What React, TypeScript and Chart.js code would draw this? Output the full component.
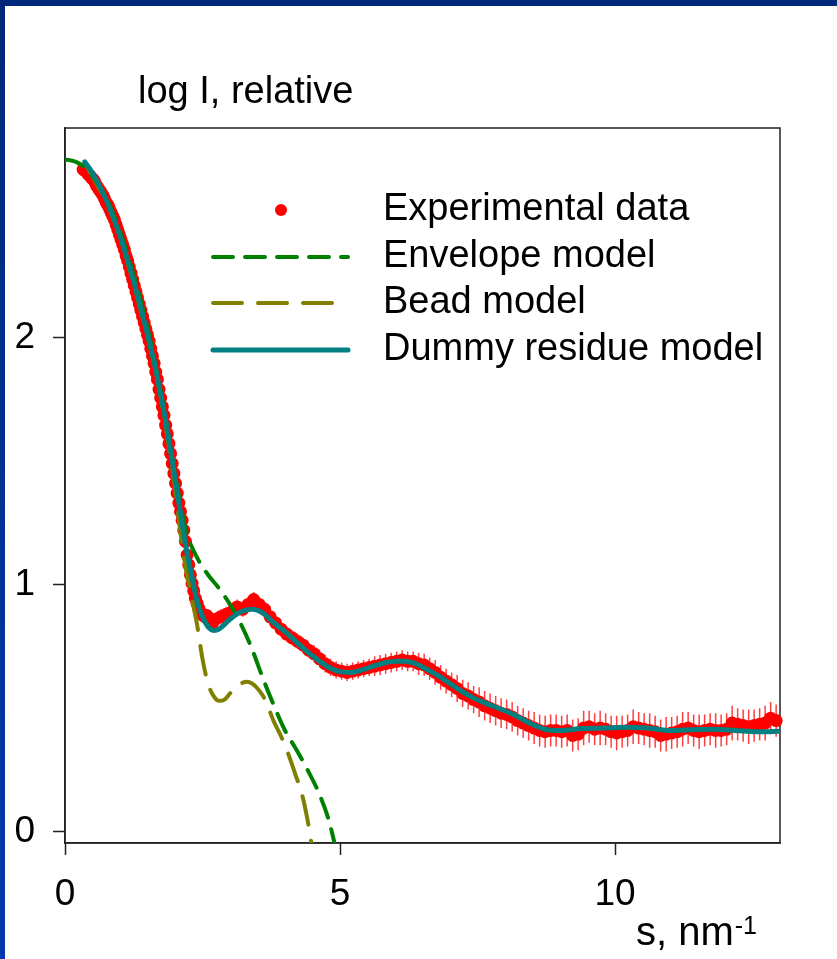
import React, { useEffect, useRef } from "react";
import { Chart, registerables } from "chart.js";

Chart.register(...registerables);

// ---- data ----
const expS = [
  0.33, 0.36, 0.39, 0.42, 0.45, 0.48, 0.51, 0.54, 0.57, 0.6,
  0.63, 0.66, 0.69, 0.72, 0.75, 0.78, 0.81, 0.84, 0.87, 0.9,
  0.93, 0.96, 0.99, 1.02, 1.05, 1.08, 1.11, 1.14, 1.17, 1.2,
  1.23, 1.26, 1.29, 1.32, 1.35, 1.38, 1.41, 1.44, 1.47, 1.5,
  1.53, 1.56, 1.59, 1.62, 1.65, 1.68, 1.71, 1.74, 1.77, 1.8,
  1.83, 1.86, 1.89, 1.92, 1.95, 1.98, 2.01, 2.04, 2.07, 2.1,
  2.13, 2.16, 2.19, 2.22, 2.25, 2.28, 2.31, 2.34, 2.37, 2.4,
  2.43, 2.46, 2.49, 2.52, 2.55, 2.58, 2.61, 2.64, 2.67, 2.7,
  2.73,
  2.83, 2.93, 3.03, 3.13, 3.23,
  3.33, 3.43, 3.53, 3.63, 3.73, 3.83, 3.93, 4.03, 4.13, 4.23,
  4.33, 4.43, 4.53, 4.63, 4.73, 4.83, 4.93, 5.03, 5.13, 5.23,
  5.33, 5.43, 5.53, 5.63, 5.73, 5.83, 5.93, 6.03, 6.13, 6.23,
  6.33, 6.43, 6.53, 6.63, 6.73, 6.83, 6.93, 7.03, 7.13, 7.23,
  7.33, 7.43, 7.53, 7.63, 7.73, 7.83, 7.93, 8.03, 8.13, 8.23,
  8.33, 8.43, 8.53, 8.63, 8.73, 8.83, 8.93, 9.03, 9.13, 9.23,
  9.33, 9.43, 9.53, 9.63, 9.73, 9.83, 9.93, 10.03, 10.13, 10.23,
  10.33, 10.43, 10.53, 10.63, 10.73, 10.83, 10.93, 11.03, 11.13, 11.23,
  11.33, 11.43, 11.53, 11.63, 11.73, 11.83, 11.93, 12.03, 12.13, 12.23,
  12.33, 12.43, 12.53, 12.63, 12.73, 12.83, 12.93,
];
const expI = [
  2.68, 2.675, 2.67, 2.66, 2.655, 2.645, 2.64, 2.63, 2.615, 2.605,
  2.595, 2.585, 2.575, 2.56, 2.545, 2.535, 2.52, 2.505, 2.49, 2.475,
  2.455, 2.435, 2.415, 2.395, 2.375, 2.355, 2.33, 2.31, 2.285, 2.26,
  2.235, 2.21, 2.185, 2.16, 2.135, 2.11, 2.085, 2.06, 2.035, 2.01,
  1.985, 1.955, 1.925, 1.895, 1.86, 1.83, 1.79, 1.755, 1.72, 1.685,
  1.645, 1.61, 1.57, 1.53, 1.49, 1.45, 1.41, 1.37, 1.33, 1.295,
  1.26, 1.22, 1.175, 1.12, 1.08, 1.04, 1.005, 0.975, 0.945, 0.925,
  0.905, 0.89, 0.88, 0.875, 0.87, 0.875, 0.865, 0.855, 0.84, 0.85,
  0.86,
  0.87, 0.88, 0.89, 0.91, 0.9,
  0.92, 0.94, 0.92, 0.9, 0.87, 0.845, 0.82, 0.8, 0.785, 0.77,
  0.755, 0.735, 0.72, 0.7, 0.68, 0.665, 0.655, 0.65, 0.645, 0.65,
  0.655, 0.66, 0.665, 0.67, 0.675, 0.68, 0.685, 0.69, 0.695, 0.69,
  0.69, 0.68, 0.675, 0.66, 0.645, 0.625, 0.61, 0.595, 0.58, 0.56,
  0.55, 0.535, 0.525, 0.51, 0.5, 0.49, 0.48, 0.475, 0.465, 0.45,
  0.44, 0.43, 0.42, 0.41, 0.405, 0.41, 0.41, 0.405, 0.41, 0.39,
  0.395, 0.42, 0.425, 0.415, 0.42, 0.415, 0.405, 0.4, 0.405, 0.41,
  0.425, 0.42, 0.415, 0.41, 0.405, 0.39, 0.395, 0.4, 0.405, 0.415,
  0.42, 0.41, 0.405, 0.41, 0.415, 0.41, 0.41, 0.415, 0.44, 0.435,
  0.43, 0.425, 0.43, 0.435, 0.44, 0.46, 0.45,
];
const expErr = [
  0.012, 0.012, 0.012, 0.012, 0.012, 0.012, 0.012, 0.012, 0.012, 0.012,
  0.012, 0.012, 0.012, 0.012, 0.012, 0.012, 0.012, 0.012, 0.012, 0.012,
  0.012, 0.012, 0.012, 0.012, 0.012, 0.012, 0.012, 0.012, 0.012, 0.012,
  0.012, 0.012, 0.012, 0.012, 0.012, 0.012, 0.012, 0.012, 0.012, 0.012,
  0.012, 0.012, 0.012, 0.012, 0.012, 0.012, 0.012, 0.012, 0.012, 0.012,
  0.012, 0.012, 0.012, 0.012, 0.012, 0.012, 0.012, 0.012, 0.012, 0.012,
  0.012, 0.012, 0.012, 0.012, 0.012, 0.012, 0.02, 0.02, 0.02, 0.02,
  0.02, 0.02, 0.02, 0.025, 0.025, 0.025, 0.025, 0.025, 0.025, 0.025,
  0.025,
  0.03, 0.03, 0.03, 0.03, 0.03,
  0.03, 0.03, 0.03, 0.03, 0.03, 0.03, 0.03, 0.03, 0.03, 0.03,
  0.03, 0.03, 0.035, 0.035, 0.035, 0.035, 0.035, 0.035, 0.035, 0.035,
  0.035, 0.035, 0.035, 0.04, 0.04, 0.04, 0.04, 0.04, 0.04, 0.04,
  0.04, 0.045, 0.045, 0.045, 0.05, 0.05, 0.05, 0.05, 0.055, 0.055,
  0.055, 0.055, 0.06, 0.06, 0.06, 0.06, 0.06, 0.06, 0.06, 0.06,
  0.06, 0.06, 0.065, 0.065, 0.065, 0.065, 0.065, 0.065, 0.065, 0.065,
  0.065, 0.07, 0.065, 0.065, 0.07, 0.065, 0.065, 0.07, 0.065, 0.065,
  0.07, 0.065, 0.065, 0.07, 0.065, 0.065, 0.07, 0.065, 0.065, 0.07,
  0.065, 0.065, 0.07, 0.065, 0.065, 0.07, 0.065, 0.065, 0.07, 0.065,
  0.065, 0.07, 0.065, 0.065, 0.07, 0.065, 0.065,
];

const envS = [0, 0.2, 0.4, 0.6, 0.8, 1.0, 1.2, 1.4, 1.6, 1.8, 2.0, 2.2, 2.4, 2.6, 2.8, 3.0, 3.2, 3.4, 3.6, 3.8, 4.0, 4.2, 4.4, 4.6, 4.8, 4.9];
const envI = [2.72, 2.71, 2.68, 2.62, 2.54, 2.43, 2.29, 2.13, 1.94, 1.71, 1.45, 1.22, 1.11, 1.04, 0.985, 0.92, 0.84, 0.74, 0.62, 0.51, 0.41, 0.335, 0.255, 0.165, 0.045, -0.045];

const beadS = [0.4, 0.6, 0.8, 1.0, 1.2, 1.4, 1.6, 1.8, 2.0, 2.1, 2.2, 2.3, 2.4, 2.5, 2.6, 2.7, 2.8, 2.9, 3.0, 3.1, 3.2, 3.3, 3.4, 3.5, 3.6, 3.7, 3.8, 3.9, 4.0, 4.1, 4.2, 4.3, 4.4, 4.48];
const beadI = [2.69, 2.61, 2.525, 2.405, 2.255, 2.09, 1.91, 1.68, 1.39, 1.21, 1.06, 0.95, 0.84, 0.7, 0.6, 0.55, 0.53, 0.535, 0.56, 0.585, 0.6, 0.607, 0.6, 0.58, 0.55, 0.5, 0.445, 0.4, 0.35, 0.29, 0.225, 0.16, 0.06, -0.045];

const dumS = [0.36, 0.5, 0.6, 0.8, 1.0, 1.2, 1.4, 1.6, 1.8, 1.9, 2.0, 2.1, 2.2, 2.3, 2.4, 2.5, 2.6, 2.7, 2.8, 3.0, 3.2, 3.4, 3.6, 3.8, 4.0, 4.2, 4.4, 4.6, 4.8, 5.0, 5.2, 5.4, 5.6, 5.8, 6.0, 6.2, 6.4, 6.6, 6.8, 7.0, 7.2, 7.4, 7.6, 7.8, 8.0, 8.2, 8.4, 8.6, 8.8, 9.0, 9.4, 9.8, 10.2, 10.6, 11.0, 11.4, 11.8, 12.2, 12.6, 13.0];
const dumI = [2.71, 2.665, 2.625, 2.53, 2.41, 2.265, 2.1, 1.92, 1.7, 1.57, 1.43, 1.29, 1.15, 1.04, 0.935, 0.87, 0.83, 0.815, 0.82, 0.86, 0.89, 0.9, 0.885, 0.845, 0.81, 0.77, 0.73, 0.695, 0.665, 0.648, 0.645, 0.655, 0.67, 0.683, 0.69, 0.69, 0.678, 0.655, 0.63, 0.6, 0.57, 0.545, 0.525, 0.507, 0.49, 0.47, 0.445, 0.425, 0.412, 0.41, 0.418, 0.42, 0.423, 0.42, 0.41, 0.413, 0.415, 0.41, 0.405, 0.407];

const xTicks = [0, 5, 10];
const yTicks = [0, 1, 2];
const xRange = [0, 13];
const yRange = [-0.045, 2.847];
const legendLabels = ["Experimental data", "Envelope model", "Bead model", "Dummy residue model"];
const yTitle = "log I, relative";
const xTitle = "s, nm";
const xTitleSup = "-1";

const COLORS = { exp: "#ff0000", env: "#008000", bead: "#808000", dum: "#008080", axis: "#222222" };
const FONT = '"Liberation Sans", Arial, Helvetica, sans-serif';
const FS_TICK = 37;
const FS_TEXT = 38;

export default function App() {
  const ref = useRef<HTMLCanvasElement>(null);

  useEffect(() => {
    const canvas = ref.current;
    if (!canvas) return;
    const toXY = (xs: number[], ys: number[]) => xs.map((x, i) => ({ x, y: ys[i] }));

    const framePlugin = {
      id: "frame",
      beforeDatasetsDraw(chart: any) {
        const { ctx, chartArea: a } = chart;
        ctx.save();
        ctx.strokeStyle = COLORS.axis;
        ctx.lineWidth = 1.5;
        ctx.strokeRect(a.left, a.top, a.right - a.left, a.bottom - a.top);
        ctx.restore();
      },
    };

    const errorBarPlugin = {
      id: "errorBars",
      beforeDatasetsDraw(chart: any) {
        const { ctx } = chart;
        const xs = chart.scales.x;
        const ys = chart.scales.y;
        ctx.save();
        ctx.strokeStyle = "rgba(255,0,0,0.75)";
        ctx.lineWidth = 1.5;
        ctx.beginPath();
        expS.forEach((s, i) => {
          const px = xs.getPixelForValue(s);
          ctx.moveTo(px, ys.getPixelForValue(expI[i] - expErr[i]));
          ctx.lineTo(px, ys.getPixelForValue(expI[i] + expErr[i]));
        });
        ctx.stroke();
        ctx.restore();
      },
    };

    const annotPlugin = {
      id: "annot",
      afterDraw(chart: any) {
        const { ctx, chartArea: a } = chart;
        ctx.save();
        ctx.fillStyle = "#000";
        ctx.font = `${FS_TEXT}px ${FONT}`;
        ctx.textBaseline = "alphabetic";
        ctx.textAlign = "left";
        // y-axis title
        ctx.fillText(yTitle, a.left + 73, a.top - 25);
        // x-axis title with superscript
        const tx = a.left + 571;
        const ty = a.bottom + 102;
        ctx.font = `40px ${FONT}`;
        ctx.fillText(xTitle, tx, ty);
        const w = ctx.measureText(xTitle).width;
        ctx.font = `25px ${FONT}`;
        ctx.fillText(xTitleSup, tx + w + 1, ty - 11);

        // legend
        const rows = [82, 129, 175, 222];
        const symL = a.left + 146;
        const symR = a.left + 285;
        const textX = a.left + 318;
        ctx.font = `${FS_TEXT}px ${FONT}`;
        ctx.textBaseline = "middle";
        legendLabels.forEach((lab, i) => {
          ctx.fillStyle = "#000";
          ctx.fillText(lab, textX, a.top + rows[i]);
        });
        ctx.fillStyle = COLORS.exp;
        ctx.beginPath();
        ctx.arc(a.left + 216, a.top + rows[0], 6, 0, Math.PI * 2);
        ctx.fill();
        const drawLine = (yy: number, color: string, width: number, dash: number[]) => {
          ctx.save();
          ctx.strokeStyle = color;
          ctx.lineWidth = width;
          ctx.lineCap = "round";
          ctx.setLineDash(dash);
          ctx.beginPath();
          ctx.moveTo(symL + 2, yy);
          ctx.lineTo(symR - 2, yy);
          ctx.stroke();
          ctx.restore();
        };
        drawLine(a.top + rows[1], COLORS.env, 4, [20, 12]);
        drawLine(a.top + rows[2], COLORS.bead, 4, [29, 16]);
        drawLine(a.top + rows[3], COLORS.dum, 5, []);
        ctx.restore();
      },
    };

    const axisCommon = (ticksArr: number[]) => ({
      type: "linear" as const,
      afterBuildTicks: (s: any) => {
        s.ticks = ticksArr.map((v) => ({ value: v }));
      },
      grid: {
        display: true,
        drawOnChartArea: false,
        drawTicks: true,
        tickLength: 12,
        tickColor: COLORS.axis,
        tickWidth: 1.5,
      },
      border: { display: true, color: COLORS.axis, width: 1.5 },
      title: { display: false },
    });

    const chart = new Chart(canvas, {
      type: "scatter",
      data: {
        datasets: [
          {
            label: legendLabels[3],
            data: toXY(dumS, dumI),
            showLine: true,
            borderColor: COLORS.dum,
            borderWidth: 5,
            borderCapStyle: "round",
            pointRadius: 0,
            cubicInterpolationMode: "monotone",
            order: 0,
          },
          {
            label: legendLabels[1],
            data: toXY(envS, envI),
            showLine: true,
            borderColor: COLORS.env,
            borderWidth: 4,
            borderDash: [20, 12],
            borderCapStyle: "round",
            pointRadius: 0,
            cubicInterpolationMode: "monotone",
            order: 1,
          },
          {
            label: legendLabels[2],
            data: toXY(beadS, beadI),
            showLine: true,
            borderColor: COLORS.bead,
            borderWidth: 4,
            borderDash: [29, 16],
            borderCapStyle: "round",
            pointRadius: 0,
            cubicInterpolationMode: "monotone",
            order: 2,
          },
          {
            label: legendLabels[0],
            data: toXY(expS, expI),
            showLine: false,
            pointRadius: 6.5,
            pointBackgroundColor: COLORS.exp,
            pointBorderWidth: 0,
            backgroundColor: COLORS.exp,
            borderColor: COLORS.exp,
            clip: false,
            order: 3,
          },
        ],
      },
      options: {
        animation: false,
        responsive: false,
        devicePixelRatio: 1,
        events: [],
        layout: { padding: { left: 0, top: 128, right: 57, bottom: 0 } },
        plugins: { legend: { display: false }, tooltip: { enabled: false } },
        scales: {
          x: {
            ...axisCommon(xTicks),
            position: "bottom",
            min: xRange[0],
            max: xRange[1],
            afterFit: (s: any) => {
              s.height = 116;
            },
            ticks: {
              color: "#000",
              font: { family: FONT, size: FS_TICK },
              padding: 18,
              maxRotation: 0,
              autoSkip: false,
            },
          },
          y: {
            ...axisCommon(yTicks),
            position: "left",
            min: yRange[0],
            max: yRange[1],
            afterFit: (s: any) => {
              s.width = 65;
            },
            ticks: {
              color: "#000",
              font: { family: FONT, size: FS_TICK },
              padding: 18,
              autoSkip: false,
            },
          },
        },
      } as any,
      plugins: [framePlugin, errorBarPlugin, annotPlugin],
    });

    return () => chart.destroy();
  }, []);

  return (
    <div style={{ position: "absolute", left: 0, top: 0, width: 837, height: 959, background: "#fff", overflow: "hidden" }}>
      <div style={{ position: "absolute", left: 0, top: 0, width: 837, height: 6, background: "#00287a" }} />
      <div style={{ position: "absolute", left: 0, top: 0, width: 5, height: 959, background: "linear-gradient(#00287a, #0038ad)" }} />
      <canvas ref={ref} width={837} height={959} style={{ position: "absolute", left: 0, top: 0 }} />
    </div>
  );
}
